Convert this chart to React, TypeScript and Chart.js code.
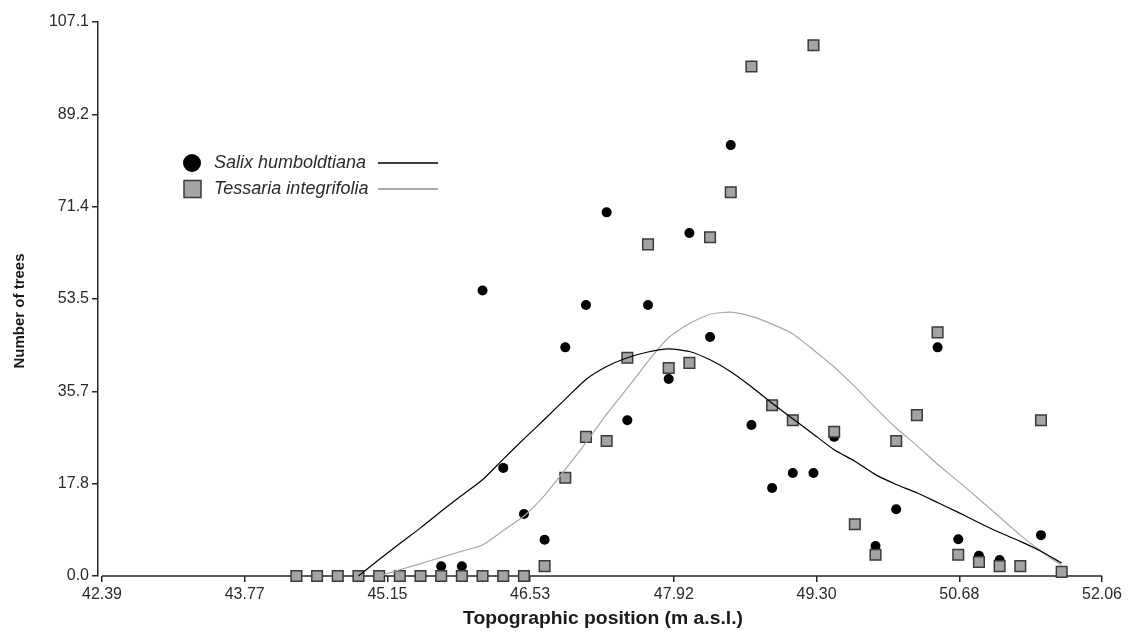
import { useEffect, useRef } from "react";
import { Chart, registerables } from "chart.js";

Chart.register(...registerables);

// Topographic positions (m a.s.l.) of the sampled plots
const xPositions = [
  44.27, 44.47, 44.67, 44.87, 45.07, 45.27, 45.47, 45.67, 45.87, 46.07,
  46.27, 46.47, 46.67, 46.87, 47.07, 47.27, 47.47, 47.67, 47.87, 48.07,
  48.27, 48.47, 48.67, 48.87, 49.07, 49.27, 49.47, 49.67, 49.87, 50.07,
  50.27, 50.47, 50.67, 50.87, 51.07, 51.27, 51.47, 51.67,
];

// Salix humboldtiana tree counts (null = no marker visible)
const salixCounts: (number | null)[] = [
  0, 0, 0, 0, 0, 0, 0, 1.9, 1.9, 55.2,
  20.9, 12.0, 7.0, 44.2, 52.4, 70.3, 30.1, 52.4, 38.1, 66.3,
  46.2, 83.3, 29.2, 17.0, 19.9, 19.9, 26.9, null, 5.8, 12.9,
  null, 44.2, 7.1, 3.9, 3.1, null, 7.9, null,
];

// Tessaria integrifolia tree counts
const tessariaCounts: number[] = [
  0, 0, 0, 0, 0, 0, 0, 0, 0, 0,
  0, 0, 1.9, 19.0, 26.9, 26.1, 42.2, 64.1, 40.2, 41.2,
  65.5, 74.2, 98.5, 33.0, 30.1, 102.6, 27.9, 10.0, 4.1, 26.1,
  31.1, 47.1, 4.1, 2.7, 1.9, 1.9, 30.1, 0.8,
];

// Fitted curves (start at position index 3 and 4 respectively)
const salixFitStart = 3;
const salixFit = [
  0, 3.2, 6.3, 9.3, 12.5, 15.6, 18.6, 22.6, 26.5, 30.3,
  34.2, 38.0, 40.5, 42.2, 43.3, 43.9, 43.4, 41.8, 39.5, 36.6,
  33.4, 30.4, 27.4, 24.4, 22.2, 19.6, 17.7, 16.1, 14.2, 12.3,
  10.3, 8.4, 6.7, 4.8, 2.5,
];
const tessariaFitStart = 4;
const tessariaFit = [
  0, 1.2, 2.4, 3.6, 4.8, 6.0, 8.8, 11.6, 15.6, 20.6,
  25.8, 31.3, 36.3, 41.5, 46.1, 48.8, 50.6, 51.0, 50.2, 48.7,
  46.8, 43.7, 40.4, 36.6, 32.5, 28.6, 25.2, 21.6, 18.3, 14.9,
  11.4, 7.9, 4.8, 2.0,
];

const xTickValues = [42.39, 43.77, 45.15, 46.53, 47.92, 49.3, 50.68, 52.06];
const xTickLabels = ["42.39", "43.77", "45.15", "46.53", "47.92", "49.30", "50.68", "52.06"];
const yTickValues = [0, 17.85, 35.7, 53.55, 71.4, 89.25, 107.1];
const yTickLabels = ["0.0", "17.8", "35.7", "53.5", "71.4", "89.2", "107.1"];

const seriesNames = ["Salix humboldtiana", "Tessaria integrifolia"];
const xTitle = "Topographic position (m a.s.l.)";
const yTitle = "Number of trees";

const FONT = "'Liberation Sans', Arial, sans-serif";
const AXIS = "#262626";
const SQ_FILL = "#a4a4a4";
const SQ_EDGE = "#3a3a3a";
const GRAY_LINE = "#a8a8a8";

export default function App() {
  const ref = useRef<HTMLCanvasElement | null>(null);

  useEffect(() => {
    document.body.style.margin = "0";
    const canvas = ref.current;
    if (!canvas) return;

    const decor = {
      id: "decor",
      beforeDatasetsDraw(chart: any) {
        const ctx = chart.ctx;
        const xs = chart.scales.x;
        const bottom = chart.chartArea.bottom;
        ctx.save();
        ctx.strokeStyle = AXIS;
        ctx.lineWidth = 1.5;
        ctx.beginPath();
        ctx.moveTo(xs.getPixelForValue(xTickValues[0]), bottom);
        ctx.lineTo(xs.getPixelForValue(xTickValues[xTickValues.length - 1]), bottom);
        ctx.stroke();
        ctx.restore();
      },
      afterDraw(chart: any) {
        const ctx = chart.ctx;
        ctx.save();
        // x axis title (slightly stretched to match the original's width)
        ctx.fillStyle = "#1a1a1a";
        ctx.font = `bold 18px ${FONT}`;
        ctx.textAlign = "center";
        ctx.textBaseline = "middle";
        const w = ctx.measureText(xTitle).width;
        ctx.save();
        ctx.translate(603, 619);
        ctx.scale(280 / w, 1);
        ctx.fillText(xTitle, 0, 0);
        ctx.restore();
        // y axis title
        ctx.font = `bold 15px ${FONT}`;
        ctx.save();
        ctx.translate(20, 311);
        ctx.rotate(-Math.PI / 2);
        ctx.fillText(yTitle, 0, 0);
        ctx.restore();

        // legend
        const rows = [163, 189];
        ctx.font = `italic 18px ${FONT}`;
        ctx.textAlign = "left";
        // row 1: circle
        ctx.beginPath();
        ctx.arc(192, rows[0], 9, 0, Math.PI * 2);
        ctx.fillStyle = "#000";
        ctx.fill();
        ctx.fillStyle = "#2a2a2a";
        ctx.fillText(seriesNames[0], 214, rows[0]);
        ctx.strokeStyle = "#000";
        ctx.lineWidth = 1.5;
        ctx.beginPath();
        ctx.moveTo(378, rows[0]);
        ctx.lineTo(438, rows[0]);
        ctx.stroke();
        // row 2: square
        ctx.fillStyle = SQ_FILL;
        ctx.fillRect(184, rows[1] - 8.5, 17, 17);
        ctx.strokeStyle = SQ_EDGE;
        ctx.lineWidth = 1.5;
        ctx.strokeRect(184, rows[1] - 8.5, 17, 17);
        ctx.fillStyle = "#2a2a2a";
        ctx.fillText(seriesNames[1], 214, rows[1]);
        ctx.strokeStyle = GRAY_LINE;
        ctx.lineWidth = 2;
        ctx.beginPath();
        ctx.moveTo(378, rows[1]);
        ctx.lineTo(438, rows[1]);
        ctx.stroke();
        ctx.restore();
      },
    };

    const salixPts = xPositions.map((x, i) => ({ x, y: salixCounts[i] }));
    const tessPts = xPositions.map((x, i) => ({ x, y: tessariaCounts[i] }));
    const salixFitPts = salixFit.map((y, i) => ({ x: xPositions[i + salixFitStart], y }));
    const tessFitPts = tessariaFit.map((y, i) => ({ x: xPositions[i + tessariaFitStart], y }));

    // chart area: left 98 (y axis), right 1102; 42.39 maps to 102
    const pxPerUnit = (1102 - 102) / (52.06 - 42.39);
    const xMin = 42.39 - 4 / pxPerUnit;

    const chart = new Chart(canvas, {
      type: "scatter",
      data: {
        datasets: [
          {
            type: "line",
            label: "Salix fit",
            data: salixFitPts as any,
            borderColor: "#000",
            borderWidth: 1.2,
            pointRadius: 0,
            tension: 0.2,
            fill: false,
            order: 0,
            clip: false as any,
          },
          {
            type: "line",
            label: "Tessaria fit",
            data: tessFitPts as any,
            borderColor: GRAY_LINE,
            borderWidth: 1.2,
            pointRadius: 0,
            tension: 0.2,
            fill: false,
            order: 0,
            clip: false as any,
          },
          {
            label: seriesNames[1],
            data: tessPts as any,
            pointStyle: "rect",
            pointRadius: 7.5,
            backgroundColor: SQ_FILL,
            borderColor: SQ_EDGE,
            borderWidth: 1.5,
            order: 1,
            clip: false as any,
          },
          {
            label: seriesNames[0],
            data: salixPts as any,
            pointStyle: "circle",
            pointRadius: 5,
            backgroundColor: "#000",
            borderColor: "#000",
            borderWidth: 0,
            order: 2,
            clip: false as any,
          },
        ],
      },
      options: {
        responsive: false,
        animation: false,
        events: [],
        layout: { padding: { top: 22, right: 26, left: 0, bottom: 0 } },
        plugins: {
          legend: { display: false },
          tooltip: { enabled: false },
        },
        scales: {
          x: {
            type: "linear",
            min: xMin,
            max: 52.06,
            afterBuildTicks: (scale: any) => {
              scale.ticks = xTickValues.map((v) => ({ value: v }));
            },
            afterFit: (scale: any) => {
              scale.height = 57;
            },
            grid: {
              display: true,
              drawOnChartArea: false,
              drawTicks: true,
              tickLength: 6,
              color: AXIS,
              lineWidth: 1.5,
            },
            border: { display: false },
            ticks: {
              autoSkip: false,
              maxRotation: 0,
              padding: 3,
              color: "#2a2a2a",
              font: { family: FONT, size: 16 },
              callback: (_v: any, i: number) => xTickLabels[i],
            },
          },
          y: {
            type: "linear",
            min: 0,
            max: 107.1,
            afterBuildTicks: (scale: any) => {
              scale.ticks = yTickValues.map((v) => ({ value: v }));
            },
            afterFit: (scale: any) => {
              scale.width = 98;
            },
            grid: {
              display: true,
              drawOnChartArea: false,
              drawTicks: true,
              tickLength: 6,
              color: AXIS,
              lineWidth: 1.5,
            },
            border: { display: true, color: AXIS, width: 1.5 },
            ticks: {
              autoSkip: false,
              padding: 3,
              color: "#2a2a2a",
              font: { family: FONT, size: 16 },
              callback: (_v: any, i: number) => yTickLabels[i],
            },
          },
        },
      },
      plugins: [decor],
    });

    return () => chart.destroy();
  }, []);

  return (
    <div style={{ width: 1128, height: 633, background: "#fff" }}>
      <canvas ref={ref} width={1128} height={633} style={{ display: "block" }} />
    </div>
  );
}
